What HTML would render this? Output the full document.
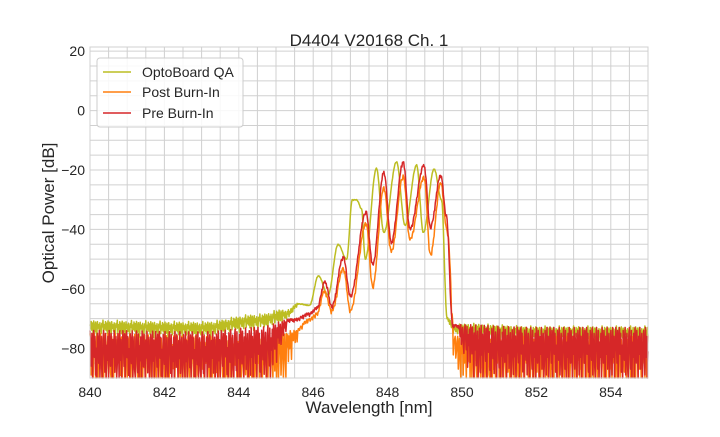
<!DOCTYPE html>
<html><head><meta charset="utf-8"><style>
body{margin:0;background:#fff;}
svg text{font-family:"Liberation Sans",Arial,sans-serif;fill:#262626;}
</style></head><body>
<svg id="chart" width="720" height="432" xmlns="http://www.w3.org/2000/svg">
<rect width="720" height="432" fill="#fff"/>
<g id="grid"></g>
<g id="series"></g>
<g id="axes"></g>
<text x="369" y="46" font-size="17" text-anchor="middle">D4404 V20168 Ch. 1</text>
<text x="369" y="413" font-size="17" text-anchor="middle">Wavelength [nm]</text>
<text transform="translate(54,213) rotate(-90)" font-size="17" text-anchor="middle">Optical Power [dB]</text>
<g>
<rect x="97" y="58" width="146" height="69" rx="3" fill="#fff" fill-opacity="0.85" stroke="#ccc"/>
<g><line x1="103" y1="72" x2="131" y2="72" stroke="#bcbd22" stroke-width="1.6"/><text x="142" y="77" font-size="14">OptoBoard QA</text></g>
<g><line x1="103" y1="92" x2="131" y2="92" stroke="#ff7f0e" stroke-width="1.6"/><text x="142" y="97" font-size="14">Post Burn-In</text></g>
<g><line x1="103" y1="113" x2="131" y2="113" stroke="#d62728" stroke-width="1.6"/><text x="142" y="118" font-size="14">Pre Burn-In</text></g>
</g>
</svg>
<script>
// ---- data ----
const xTicks=[840,842,844,846,848,850,852,854];
const yTicks=[20,0,-20,-40,-60,-80];
const qaWl=[840,843,844.5,845.3,845.6,845.9,846.14,846.4,846.67,846.9,847.05,847.17,847.3,847.4,847.7,847.9,848.24,848.47,848.78,848.96,849.25,849.45,849.6,849.8,852,855];
const qaDb=[-72,-72.5,-70,-68,-65,-65.5,-55.6,-62,-45,-50,-30,-30,-33,-50,-19.4,-41,-17.2,-38.6,-18.3,-41,-19.6,-30,-70,-73,-74,-74];
const postWl=[840,843,844.5,845.5,845.9,846.1,846.3,846.5,846.81,847.0,847.42,847.6,847.9,848.1,848.42,848.6,848.98,849.15,849.43,849.6,849.8,852,855];
const postDb=[-75,-76,-77,-74,-70,-68,-60.5,-67,-52.7,-67,-37.5,-58.7,-25.6,-47,-21.6,-43,-22,-48,-24,-40,-76,-76,-76];
const preWl=[840,843,844.5,845.5,845.9,846.1,846.32,846.5,846.81,847.0,847.42,847.6,847.9,848.1,848.42,848.6,848.98,849.15,849.43,849.58,849.75,852,855];
const preDb=[-74,-74.5,-73,-70,-68,-66,-57.2,-65.5,-48.9,-62,-33.7,-51.5,-20.3,-43.9,-16.8,-39.4,-18,-38.8,-21.3,-35,-72,-73,-73];
const qaNoise=[0,-1.5,1,-2,0.5,-3,1.2,-1,-2.5,0.8,-0.5,-4,1,-1.2,0,-2.2,0.6,-1.8,-3,0.4,-0.8,1.5,-2.7];
const postNoise=[0,-3,-14,-2,-1,-20,-6,0,-4,-16,-3,-1,-9,-25,-1,-2,-12,0,-5,-18,-4,-1,-22,-7,-2,0,-15,-10,-3,0,-19,-5,-1,-13,-24,-1,-8,-2,-17,-3,-11,0,-6,-21,-2,-4,-9];
const preNoise=[0,-5,-12,-1,-18,-3,0,-9,-2,-15,-6,-20,-1,-4,-11,0,-16,-7,-2,-13,-19,-3,0,-8,-14,-1,-22,-5,-10,-2,-17,0,-4,-12,-1,-7,-21,-3,-9,0,-14,-6,-2,-18,-11,-1,-5,-16,0,-10,-3,-19,-8];
// ---- scales ----
const X0=90,X1=648,Y0=47,Y1=378,XMIN=840,XMAX=855,YMIN=-90,YMAX=21.4;
const sx=v=>X0+(v-XMIN)/(XMAX-XMIN)*(X1-X0);
const sy=v=>Y1-(v-YMIN)/(YMAX-YMIN)*(Y1-Y0);
const NS="http://www.w3.org/2000/svg";
const mk=(t,a,p)=>{const e=document.createElementNS(NS,t);for(const k in a)e.setAttribute(k,a[k]);p.appendChild(e);return e;};
const grid=document.getElementById('grid'),axes=document.getElementById('axes'),ser=document.getElementById('series');
for(let v=XMIN;v<=XMAX+1e-9;v+=0.5){const l=mk('line',{x1:sx(v),x2:sx(v),y1:Y0,y2:Y1,stroke:'#d0d0d0','stroke-width':1},grid);

}
for(let v=-90;v<=20;v+=5){const l=mk('line',{x1:X0,x2:X1,y1:sy(v),y2:sy(v),stroke:'#d0d0d0','stroke-width':1},grid);

}
const fr=mk('rect',{x:X0,y:Y0,width:X1-X0,height:Y1-Y0,fill:'none',stroke:'#d0d0d0'},axes);


xTicks.forEach(v=>{const t=mk('text',{x:sx(v),y:Y1+19,'font-size':14,'text-anchor':'middle'},axes);t.textContent=v;

});
yTicks.forEach(v=>{const t=mk('text',{x:X0-5,y:sy(v)+5,'font-size':14,'text-anchor':'end'},axes);t.textContent=(v<0?'\u2212'+(-v):v);

});
function interp(wl,db,x){for(let i=0;i<wl.length-1;i++){if(x<=wl[i+1]){const t=(x-wl[i])/(wl[i+1]-wl[i]);const s=(1-Math.cos(Math.PI*t))/2;return db[i]+(db[i+1]-db[i])*s;}}return db[db.length-1];}
function draw(wl,db,noise,color,name,lo,hi){
 let d='';const n=900;
 for(let i=0;i<=n;i++){const x=XMIN+i*(XMAX-XMIN)/n;let y=interp(wl,db,x);
  let k;
  if(x<lo-0.5||x>hi+0.5)k=1;
  else if(x<lo)k=0.15+0.85*(lo-x)/0.5;
  else if(x>hi)k=0.3+0.7*(x-hi)/0.5;
  else k=0.06;
  y+=noise[i%noise.length]*k;
  y=Math.max(YMIN,y);d+=(i?'L':'M')+sx(x).toFixed(1)+','+sy(y).toFixed(1);}
 const p=mk('path',{d:d,fill:'none',stroke:color,'stroke-width':1.5,'stroke-linejoin':'round'},ser);
 
 
}
draw(qaWl,qaDb,qaNoise,'#bcbd22','series-optoboard-qa',845.6,849.6);
draw(postWl,postDb,postNoise,'#ff7f0e','series-post-burn-in',845.6,849.7);
draw(preWl,preDb,preNoise,'#d62728','series-pre-burn-in',845.3,849.9);
</script>
</body></html>
